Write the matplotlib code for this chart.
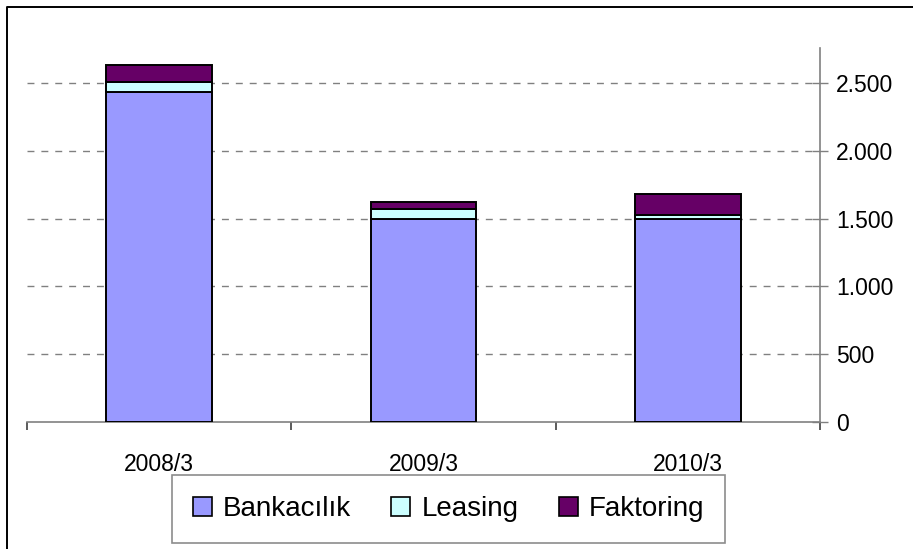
import matplotlib.pyplot as plt
from matplotlib.lines import Line2D
from matplotlib.ticker import FuncFormatter
import numpy as np

plt.rcParams["font.family"] = ["Liberation Sans", "DejaVu Sans"]

categories = ["2008/3", "2009/3", "2010/3"]
bankacilik = [2435, 1495, 1498]
leasing = [75, 75, 32]
faktoring = [128, 55, 152]
yticks = [0, 500, 1000, 1500, 2000, 2500]

colors = {"Bankacılık": "#9999FF", "Leasing": "#CCFFFF", "Faktoring": "#660066"}

fig = plt.figure(figsize=(9.13, 5.49), dpi=100)
ax = fig.add_axes([27 / 913, 1 - 422 / 549, (820 - 27) / 913, (422 - 48) / 549])

x = np.arange(len(categories))
bottom = np.zeros(len(categories))
for name, vals in [("Bankacılık", bankacilik), ("Leasing", leasing), ("Faktoring", faktoring)]:
    ax.bar(x, vals, width=0.4, bottom=bottom, color=colors[name],
           edgecolor="black", linewidth=1.4, label=name, zorder=3)
    bottom += np.array(vals)

ax.set_xlim(-0.5, 2.5)
ax.set_ylim(0, 2760)

# dashed gridlines (not on zero line)
for v in yticks[1:]:
    ax.axhline(v, color="#808080", linestyle=(0, (5, 5)), linewidth=1, zorder=1)

for s in ["top", "left"]:
    ax.spines[s].set_visible(False)
ax.spines["right"].set_color("#808080")
ax.spines["bottom"].set_color("#808080")
ax.spines["right"].set_linewidth(1.2)
ax.spines["bottom"].set_linewidth(1.2)

ax.yaxis.tick_right()
ax.set_yticks(yticks)
ax.yaxis.set_major_formatter(FuncFormatter(lambda v, p: f"{int(v):,}".replace(",", ".")))
ax.tick_params(axis="y", direction="inout", length=11.5, width=1, color="#808080",
               labelsize=16.5, pad=6)

ax.set_xticks(x)
ax.set_xticklabels(categories)
ax.set_xticks([-0.5, 0.5, 1.5, 2.5], minor=True)
ax.tick_params(axis="x", which="major", length=0, labelsize=16.5, pad=22.5)
ax.tick_params(axis="x", which="minor", direction="out", length=5.8, width=1.2, color="#404040")

leg = fig.legend(loc="center", bbox_to_anchor=(448.5 / 913, 1 - 509 / 549), ncol=3,
                 fontsize=20, frameon=True, fancybox=False, edgecolor="#707070",
                 handlelength=0.68, handleheight=0.68, handletextpad=0.4,
                 columnspacing=1.45, borderpad=0.75)
leg.get_frame().set_linewidth(1.2)
for h in leg.legend_handles:
    h.set_linewidth(1.2)

# outer chart border (only left and top visible in the crop)
fig.add_artist(Line2D([7 / 913, 7 / 913, 1.0], [0.0, 1 - 7 / 549, 1 - 7 / 549],
                      transform=fig.transFigure, color="black", linewidth=1.4))

fig.savefig("out.png", dpi=100)
